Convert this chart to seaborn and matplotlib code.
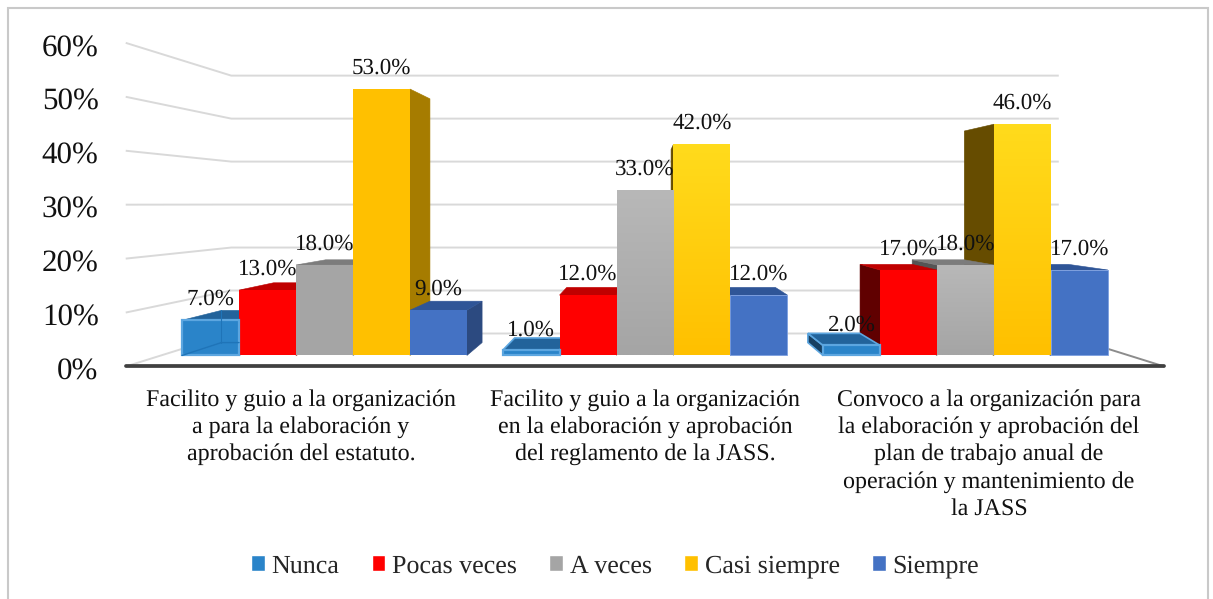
import matplotlib
matplotlib.use("Agg")
import matplotlib.pyplot as plt
from matplotlib.colors import LinearSegmentedColormap
from matplotlib.patches import Polygon, Rectangle
import numpy as np
import pandas as pd
import seaborn as sns

# Data
preguntas = [
    "Facilito y guio a la organización\na para la elaboración y\naprobación del estatuto.",
    "Facilito y guio a la organización\nen la elaboración y aprobación\ndel reglamento de la JASS.",
    "Convoco a la organización para\nla elaboración y aprobación del\nplan de trabajo anual de\noperación y mantenimiento de\nla JASS",
]
respuestas = ["Nunca", "Pocas veces", "A veces", "Casi siempre", "Siempre"]
nunca = [7.0, 1.0, 2.0]
pocas_veces = [13.0, 12.0, 17.0]
a_veces = [18.0, 33.0, 18.0]
casi_siempre = [53.0, 42.0, 46.0]
siempre = [9.0, 12.0, 17.0]
y_ticks = [0, 10, 20, 30, 40, 50, 60]

# Colours: front, top face, right face, left face
colores = {
    "Nunca": ("#2a84c9", "#22639b", "#1b5584", "#173f61"),
    "Pocas veces": ("#ff0000", "#c00000", "#a00000", "#600000"),
    "A veces": ("#a5a5a5", "#7c7c7c", "#6e6e6e", "#555555"),
    "Casi siempre": ("#ffc000", "#bf9000", "#a67c00", "#664c00"),
    "Siempre": ("#4472c4", "#2f5597", "#2c4a80", "#2a4678"),
}
gradientes = {"A veces": "#b8b8b8", "Casi siempre": "#ffdb1c"}

# Fake perspective: everything shrinks towards one vanishing point
vp_x, vp_y = 1.0, 30.1
s_chart_front, s_bar_front, s_bar_back, s_wall = 1.073, 1.0, 0.915, 0.855


def project(x, y, s):
    return vp_x + s * (x - vp_x), vp_y + s * (y - vp_y)


def face(ax, puntos, color, z, borde=None):
    ax.add_patch(Polygon(puntos, closed=True, facecolor=color, edgecolor=borde or color,
                         lw=1.2 if borde else 0.4, zorder=z))


def draw_depth(ax, bar, nombre, z):
    # top and side faces of one bar, taken from the bar seaborn drew
    x0, x1, h = bar.get_x(), bar.get_x() + bar.get_width(), bar.get_height()
    top, right, left = colores[nombre][1:]
    borde = "#5ca6e0" if nombre == "Nunca" and h < 3 else None
    if x1 < vp_x:
        face(ax, [(x1, 0), (x1, h), project(x1, h, s_bar_back), project(x1, 0, s_bar_back)], right, z, borde)
    if x0 > vp_x:
        face(ax, [(x0, 0), (x0, h), project(x0, h, s_bar_back), project(x0, 0, s_bar_back)], left, z, borde)
    if h < vp_y:
        face(ax, [(x0, h), (x1, h), project(x1, h, s_bar_back), project(x0, h, s_bar_back)], top, z, borde)


def draw_walls(ax):
    x_left, x_right = -0.51, 2.51
    for v in y_ticks:
        pts = [project(x_left, v, s_chart_front), project(x_left, v, s_wall), project(x_right, v, s_wall)]
        ax.plot(*zip(*pts), color="#d9d9d9", lw=1.4, zorder=1, solid_capstyle="butt")
    ax.plot(*zip(project(x_right, 0, s_wall), project(x_right, 0, s_chart_front)), color="#8c8c8c", lw=1.4, zorder=1)
    ax.plot(*zip(project(x_left, 0, s_chart_front), project(x_right, 0, s_chart_front)),
            color="#404040", lw=2.7, zorder=40, solid_capstyle="round")


def main():
    sns.set_theme(style="white")
    plt.rcParams["font.family"] = ["Liberation Serif", "DejaVu Sans"]
    plt.rcParams["text.hinting"] = "no_hinting"
    plt.rcParams["text.hinting_factor"] = 1

    df = pd.DataFrame({
        "pregunta": preguntas * 5,
        "respuesta": np.repeat(respuestas, 3),
        "valor": nunca + pocas_veces + a_veces + casi_siempre + siempre,
    })

    fig = plt.figure(figsize=(12.13, 5.99), dpi=100)
    ax = fig.add_axes([100 / 1213, (599 - 369) / 599, 1090 / 1213, 349 / 599])
    sns.barplot(data=df, x="pregunta", y="valor", hue="respuesta", hue_order=respuestas,
                palette={k: v[0] for k, v in colores.items()}, width=0.889, gap=0,
                saturation=1, errorbar=None, ax=ax)
    ax.set_xlim(-0.7005, 2.7005)
    ax.set_ylim(-2.178, 66.73)

    draw_walls(ax)

    # Depth faces: outer bars first, the ones nearest the centre on top
    barras = []
    for cont, nombre in zip(ax.containers, respuestas):
        for i, bar in enumerate(cont):
            barras.append((abs(bar.get_x() + bar.get_width() / 2 - vp_x), i, nombre, bar))
    barras.sort(key=lambda b: -b[0])
    for rank, (_, i, nombre, bar) in enumerate(barras):
        draw_depth(ax, bar, nombre, 2 + rank * 0.1)

    for _, i, nombre, bar in barras:
        bar.set_zorder(10)
        bar.set_linewidth(0)
        x0, x1, h = bar.get_x(), bar.get_x() + bar.get_width(), bar.get_height()
        if nombre == "Nunca":
            bar.set_edgecolor("#5ca6e0")
            bar.set_linewidth(1.6)
            bar.set_zorder(11)
            if h > 3:
                # glassy bar, the back edges show through
                bx, by = project(x0, 0, s_bar_back)
                ax.plot([x0, bx, x1], [0, by, by], color="#1f74b8", lw=1, zorder=12)
                ax.plot(*zip((bx, by), project(x0, h, s_bar_back)), color="#1f74b8", lw=0.8, zorder=12)
        if nombre == "Siempre" and i > 0:
            bar.set_edgecolor("#7d9fe0")
            bar.set_linewidth(0.6)
        if nombre in gradientes and i > 0:
            cmap = LinearSegmentedColormap.from_list("g", [gradientes[nombre], colores[nombre][0]])
            im = ax.imshow(np.linspace(0, 1, 64).reshape(-1, 1), cmap=cmap, aspect="auto",
                           extent=(x0, x1, 0, h), zorder=10.5)
            im.set_clip_path(bar)

    ax.set_xlim(-0.7005, 2.7005)
    ax.set_ylim(-2.178, 66.73)

    for cont in ax.containers:
        labels = ax.bar_label(cont, fmt="%.1f%%", padding=7.4, fontsize=16.8, color="#111111")
        for t in labels:
            t.set_zorder(30)

    # Tick labels sit on the front plane of the 3D box
    ax.set_yticks([project(0, v, s_chart_front)[1] - 0.5 for v in y_ticks], [f"{v}%" for v in y_ticks])
    ax.set_xticks([project(i, 0, s_chart_front)[0] for i in range(3)], preguntas)
    ax.tick_params(axis="y", length=0, pad=1, labelsize=22.2, labelcolor="#111111")
    ax.tick_params(axis="x", length=0, pad=14.3, labelsize=17.4, labelcolor="#111111")
    for t in ax.get_xticklabels():
        t.set_linespacing(1.33)
    ax.set_xlabel("")
    ax.set_ylabel("")
    sns.despine(ax=ax, left=True, bottom=True)
    ax.patch.set_alpha(0)

    ax.legend(loc="center", bbox_to_anchor=(615 / 1213, (599 - 566) / 599), bbox_transform=fig.transFigure,
              ncol=5, frameon=False, title=None, fontsize=18.9, handlelength=0.52, handleheight=0.52,
              handletextpad=0.26, columnspacing=1.23, borderpad=0)

    # outer frame of the chart area
    fig.add_artist(Rectangle((8 / 1213, -10 / 599), 1200 / 1213, 601 / 599, transform=fig.transFigure,
                             fill=False, edgecolor="#c9c9c9", lw=1.5))

    fig.savefig("out.png", dpi=100)


if __name__ == "__main__":
    main()
